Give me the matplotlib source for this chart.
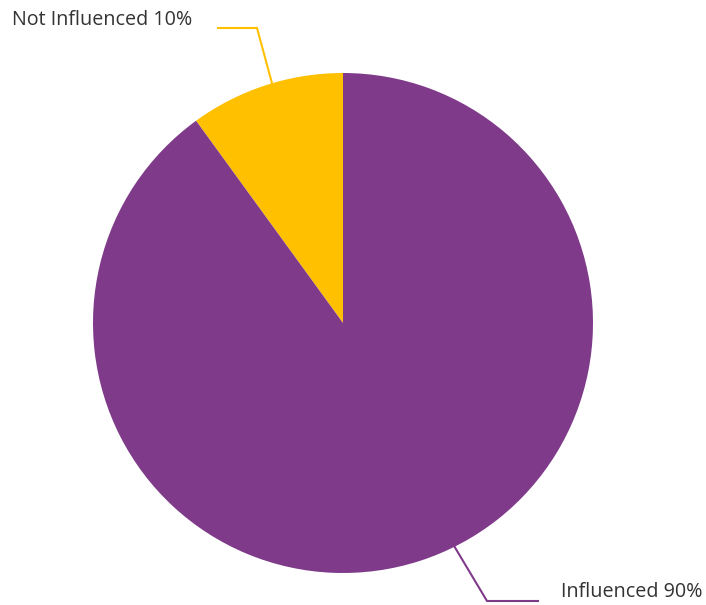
import numpy as np
import matplotlib
matplotlib.use('Agg')
import matplotlib.pyplot as plt

labels = ['Not Influenced', 'Influenced']
shares = [10, 90]
colors = ['#FFC000', '#7F3B8A']

W, H = 706, 605
fig = plt.figure(figsize=(W / 100, H / 100), dpi=100)
ax = fig.add_axes([0, 0, 1, 1])

cx, cy, r = 343, H - 323, 250
wedges, _ = ax.pie(shares, colors=colors, startangle=90, counterclock=True,
                   center=(cx, cy), radius=r, frame=True,
                   wedgeprops=dict(linewidth=0))
ax.set_xlim(0, W)
ax.set_ylim(0, H)
ax.set_aspect('equal')
ax.axis('off')

# leader lines: start on the rim, kink, then run horizontally to the label
leaders = [
    # (angle on rim, kink point, line end, text pos)
    (106.5, (257, H - 28), (218, H - 28), (12, H - 20)),
    (296.5, (487, H - 601), (538, H - 601), (561, H - 592)),
]
for (ang, kink, end, tpos), lab, val, col in zip(leaders, labels, shares, colors):
    a = np.deg2rad(ang)
    sx, sy = cx + r * np.cos(a), cy + r * np.sin(a)
    ax.plot([sx, kink[0], end[0]], [sy, kink[1], end[1]], color=col, lw=1.5,
            solid_joinstyle='miter')
    ax.text(tpos[0], tpos[1], f'{lab} {val}%', ha='left', va='center',
            fontsize=14.2, family='Open Sans', color='#333333')

fig.savefig('out.png', dpi=100)
